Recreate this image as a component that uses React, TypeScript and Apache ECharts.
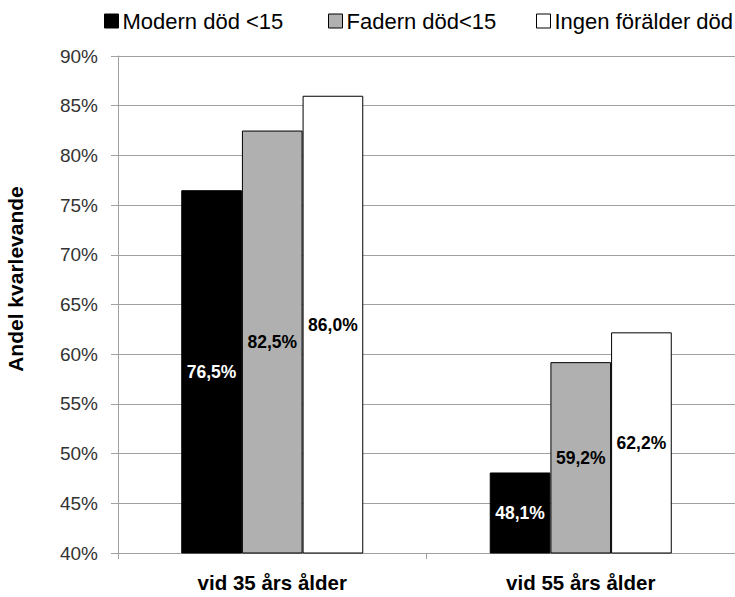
import React, { useEffect, useRef } from "react";
import * as echarts from "echarts";

const categories = ["vid 35 års ålder", "vid 55 års ålder"];
const seriesNames = ["Modern död <15", "Fadern död<15", "Ingen förälder död"];
const modernDod = [76.5, 48.1];
const fadernDod = [82.5, 59.2];
const ingenDod = [86.0, 62.2];
const yTicks = { min: 40, max: 90, interval: 5 };
const yTitle = "Andel kvarlevande";
const legendLefts = [99, 323, 531];

const FONT = "'Liberation Sans', Arial, sans-serif";

export default function App() {
  const ref = useRef<HTMLDivElement>(null);
  useEffect(() => {
    if (!ref.current) return;
    const chart = echarts.init(ref.current, undefined, { renderer: "svg" });
    const fmt = (p: any) => p.value.toFixed(1).replace(".", ",") + "%";
    const mk = (name: string, data: number[], color: string, labelColor: string) => ({
      name,
      type: "bar",
      data,
      barGap: "0%",
      barCategoryGap: "41%",
      itemStyle: { color, borderColor: "#000", borderWidth: 1 },
      label: {
        show: true,
        position: "inside",
        formatter: fmt,
        color: labelColor,
        fontWeight: "bold",
        fontSize: 17.5,
        fontFamily: FONT,
      },
    });
    chart.setOption({
      animation: false,
      textStyle: { fontFamily: FONT },
      legend: seriesNames.map((n, i) => ({
        top: 5,
        left: legendLefts[i],
        itemWidth: 14,
        itemHeight: 14,
        icon: "rect",
        textStyle: { fontSize: 22, color: "#000", fontFamily: FONT, padding: [0, 0, 0, -1] },
        data: [{ name: n, itemStyle: { borderColor: "#000", borderWidth: 1 } }],
      })),
      graphic: [
        {
          type: "text",
          x: 15,
          y: 279,
          rotation: Math.PI / 2,
          style: {
            text: yTitle,
            fontSize: 21,
            fontWeight: "bold",
            fill: "#000",
            fontFamily: FONT,
            textAlign: "center",
            textVerticalAlign: "middle",
          },
        },
      ],
      grid: { left: 118, right: -5, top: 56, bottom: 44, containLabel: false },
      xAxis: {
        type: "category",
        data: categories,
        axisLine: { lineStyle: { color: "#a0a0a0" } },
        axisTick: { show: true, length: 6, lineStyle: { color: "#a0a0a0" } },
        axisLabel: { fontSize: 20.5, fontWeight: "bold", color: "#000", margin: 19, fontFamily: FONT },
      },
      yAxis: {
        type: "value",
        min: yTicks.min,
        max: yTicks.max,
        interval: yTicks.interval,
        axisLine: { show: true, lineStyle: { color: "#a0a0a0" } },
        axisTick: { show: true, length: 7, lineStyle: { color: "#a0a0a0" } },
        axisLabel: { formatter: "{value}%", fontSize: 19, color: "#333", margin: 20, fontFamily: FONT },
        splitLine: { lineStyle: { color: "#a0a0a0" } },
      },
      series: [
        mk(seriesNames[0], modernDod, "#000000", "#ffffff"),
        mk(seriesNames[1], fadernDod, "#b0b0b0", "#000000"),
        mk(seriesNames[2], ingenDod, "#ffffff", "#000000"),
      ],
    });
    return () => chart.dispose();
  }, []);
  return <div ref={ref} style={{ width: 735, height: 597, position: "absolute", left: 0, top: 0 }} />;
}
